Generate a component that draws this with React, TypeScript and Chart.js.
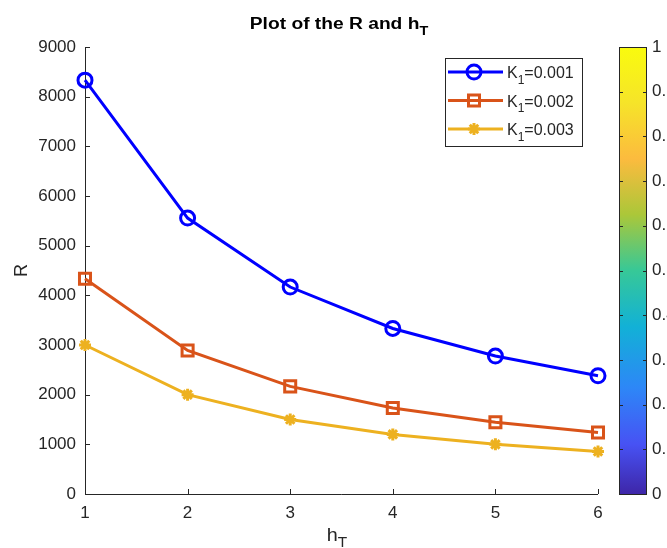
import React, { useEffect, useRef } from 'react';
import { Chart, registerables } from 'chart.js';
Chart.register(...registerables);

const hT = [1, 2, 3, 4, 5, 6];
const rK1 = [8333, 5556, 4167, 3333, 2778, 2381];
const rK2 = [4333, 2889, 2167, 1733, 1444, 1238];
const rK3 = [3000, 2000, 1500, 1200, 1000, 857];
const kValues = ['0.001', '0.002', '0.003'];
const seriesColors = ['#0000ff', '#d95319', '#edb120'];
const markerStyles = ['circle', 'rect', 'star'];
const yMin = 0;
const yMax = 9000;
const yStep = 1000;
const cbMin = 0;
const cbMax = 1;
const cbStep = 0.1;

const FONT = '"Liberation Sans", Arial, Helvetica, sans-serif';
const AXIS_COLOR = '#262626';

const parula: [number, number, number, number][] = [
  [0.0, 62, 38, 168],
  [0.111, 71, 82, 244],
  [0.238, 45, 135, 247],
  [0.375, 18, 177, 214],
  [0.5, 55, 200, 151],
  [0.625, 171, 199, 57],
  [0.75, 252, 187, 62],
  [0.875, 246, 228, 41],
  [1.0, 249, 251, 14],
];

function drawMarker(ctx: CanvasRenderingContext2D, style: string, x: number, y: number, color: string) {
  ctx.save();
  ctx.strokeStyle = color;
  ctx.lineWidth = 3;
  ctx.beginPath();
  if (style === 'circle') {
    ctx.arc(x, y, 7, 0, Math.PI * 2);
  } else if (style === 'rect') {
    ctx.rect(x - 5.5, y - 5.5, 11, 11);
  } else {
    const r = 6;
    for (let k = 0; k < 4; k++) {
      const a = (k * Math.PI) / 4;
      ctx.moveTo(x - r * Math.cos(a), y - r * Math.sin(a));
      ctx.lineTo(x + r * Math.cos(a), y + r * Math.sin(a));
    }
  }
  ctx.stroke();
  ctx.restore();
}

function drawSubText(ctx: CanvasRenderingContext2D, main: string, sub: string, rest: string, x: number, y: number, size: number, bold: boolean, align: 'left' | 'center', stretch = 1) {
  const w = bold ? 'bold ' : '';
  const mainFont = `${w}${size}px ${FONT}`;
  const subFont = `${w}${Math.round(size * 0.75)}px ${FONT}`;
  ctx.save();
  ctx.fillStyle = bold ? '#000' : '#262626';
  ctx.textBaseline = 'alphabetic';
  ctx.textAlign = 'left';
  ctx.font = mainFont;
  const w1 = ctx.measureText(main).width;
  const w3 = ctx.measureText(rest).width;
  ctx.font = subFont;
  const w2 = ctx.measureText(sub).width;
  const total = (w1 + w2 + w3) * stretch;
  const startX = align === 'center' ? x - total / 2 : x;
  ctx.translate(startX, y);
  ctx.scale(stretch, 1);
  let sx = 0;
  ctx.font = mainFont;
  ctx.fillText(main, sx, 0);
  sx += w1;
  ctx.font = subFont;
  ctx.fillText(sub, sx, size * 0.35);
  sx += w2;
  ctx.font = mainFont;
  ctx.fillText(rest, sx, 0);
  ctx.restore();
}

const decorPlugin = {
  id: 'matlabDecor',
  beforeDraw(chart: any) {
    const ctx = chart.ctx;
    ctx.save();
    ctx.fillStyle = '#fff';
    ctx.fillRect(0, 0, chart.width, chart.height);
    ctx.restore();
  },
  beforeDatasetsDraw(chart: any) {
    const ctx: CanvasRenderingContext2D = chart.ctx;
    const { left, right, top, bottom } = chart.chartArea;
    const xs = chart.scales.x;
    const ys = chart.scales.y;
    ctx.save();
    ctx.strokeStyle = AXIS_COLOR;
    ctx.lineWidth = 1;
    ctx.beginPath();
    ctx.moveTo(left + 0.5, top);
    ctx.lineTo(left + 0.5, bottom + 0.5);
    ctx.lineTo(right, bottom + 0.5);
    ctx.stroke();
    ctx.beginPath();
    xs.ticks.forEach((t: any) => {
      const px = Math.round(xs.getPixelForValue(t.value)) + 0.5;
      ctx.moveTo(px, bottom);
      ctx.lineTo(px, bottom - 5);
    });
    ys.ticks.forEach((t: any) => {
      const py = Math.round(ys.getPixelForValue(t.value)) + 0.5;
      ctx.moveTo(left, py);
      ctx.lineTo(left + 5, py);
    });
    ctx.stroke();
    ctx.restore();

    // colorbar
    const cb = chart.scales.cb;
    const cbL = 619;
    const cbR = 647;
    const grad = ctx.createLinearGradient(0, bottom, 0, top);
    parula.forEach(([p, r, g, b]) => grad.addColorStop(p, `rgb(${r},${g},${b})`));
    ctx.save();
    ctx.fillStyle = grad;
    ctx.fillRect(cbL, top, cbR - cbL, bottom - top);
    ctx.strokeStyle = AXIS_COLOR;
    ctx.lineWidth = 1;
    ctx.strokeRect(cbL + 0.5, top + 0.5, cbR - cbL - 1, bottom - top);
    ctx.beginPath();
    cb.ticks.forEach((t: any) => {
      const py = Math.round(cb.getPixelForValue(t.value)) + 0.5;
      ctx.moveTo(cbL, py);
      ctx.lineTo(cbL + 4, py);
      ctx.moveTo(cbR, py);
      ctx.lineTo(cbR - 4, py);
    });
    ctx.stroke();
    ctx.restore();
  },
  afterDraw(chart: any) {
    const ctx: CanvasRenderingContext2D = chart.ctx;
    const { left, right, top, bottom } = chart.chartArea;
    // title
    drawSubText(ctx, 'Plot of the R and h', 'T', '', 339, 29, 16, true, 'center', 1.2);
    // x label
    drawSubText(ctx, 'h', 'T', '', 337, 541, 18, false, 'center', 1.1);
    // y label
    ctx.save();
    ctx.translate(27, (top + bottom) / 2);
    ctx.rotate(-Math.PI / 2);
    ctx.font = `18px ${FONT}`;
    ctx.fillStyle = AXIS_COLOR;
    ctx.textAlign = 'center';
    ctx.textBaseline = 'alphabetic';
    ctx.fillText('R', 0, 0);
    ctx.restore();

    // legend
    const bx = 445, by = 58, bw = 137, bh = 88;
    ctx.save();
    ctx.fillStyle = '#fff';
    ctx.fillRect(bx, by, bw, bh);
    ctx.strokeStyle = AXIS_COLOR;
    ctx.lineWidth = 1;
    ctx.strokeRect(bx + 0.5, by + 0.5, bw, bh);
    ctx.restore();
    kValues.forEach((k, i) => {
      const ry = 72 + i * 28.5;
      ctx.save();
      ctx.strokeStyle = seriesColors[i];
      ctx.lineWidth = 3;
      ctx.beginPath();
      ctx.moveTo(448, ry);
      ctx.lineTo(503, ry);
      ctx.stroke();
      ctx.restore();
      drawMarker(ctx, markerStyles[i], 474, ry, seriesColors[i]);
      drawSubText(ctx, 'K', '1', '=' + k, 507, ry + 6, 16, false, 'left');
    });
  },
};

export default function App() {
  const ref = useRef<HTMLCanvasElement | null>(null);
  useEffect(() => {
    if (!ref.current) return;
    const series = [rK1, rK2, rK3];
    const chart = new Chart(ref.current, {
      type: 'line',
      data: {
        datasets: series.map((vals, i) => ({
          label: 'K1=' + kValues[i],
          data: hT.map((x, j) => ({ x, y: vals[j] })),
          borderColor: seriesColors[i],
          backgroundColor: 'rgba(0,0,0,0)',
          borderWidth: 3,
          pointStyle: markerStyles[i] as any,
          pointRadius: i === 0 ? 7 : i === 1 ? 7.8 : 6,
          pointBorderWidth: 3,
          pointBackgroundColor: 'rgba(0,0,0,0)',
          pointBorderColor: seriesColors[i],
          tension: 0,
          clip: false as any,
        })),
      },
      options: {
        animation: false,
        responsive: false,
        maintainAspectRatio: false,
        layout: { padding: { top: 47, left: 0, right: 0, bottom: 0 } },
        plugins: { legend: { display: false }, title: { display: false }, tooltip: { enabled: false } },
        scales: {
          x: {
            type: 'linear',
            min: hT[0],
            max: hT[hT.length - 1],
            ticks: { stepSize: 1, color: AXIS_COLOR, font: { family: FONT, size: 17 }, padding: 9 },
            grid: { display: false, drawTicks: false },
            border: { display: false },
            afterFit: (s: any) => { s.height = 54; },
          },
          y: {
            type: 'linear',
            min: yMin,
            max: yMax,
            ticks: {
              stepSize: yStep,
              color: AXIS_COLOR,
              font: { family: FONT, size: 17 },
              padding: 9,
              callback: (v: any) => String(v),
            },
            grid: { display: false, drawTicks: false },
            border: { display: false },
            afterFit: (s: any) => { s.width = 85; },
          },
          cb: {
            type: 'linear',
            position: 'right',
            min: cbMin,
            max: cbMax,
            ticks: {
              stepSize: cbStep,
              color: AXIS_COLOR,
              font: { family: FONT, size: 17 },
              padding: 54,
              callback: (v: any) => (v === 0 ? '0' : v === 1 ? '1' : Number(v).toFixed(1)),
            },
            grid: { display: false, drawTicks: false },
            border: { display: false },
            afterFit: (s: any) => { s.width = 69; s.paddingTop = 0; s.paddingBottom = 0; },
          },
        },
      },
      plugins: [decorPlugin],
    });
    return () => chart.destroy();
  }, []);
  return (
    <div style={{ position: 'fixed', left: 0, top: 0, width: 667, height: 548, background: '#fff' }}>
      <canvas ref={ref} width={667} height={548} style={{ width: 667, height: 548, display: 'block' }} />
    </div>
  );
}
